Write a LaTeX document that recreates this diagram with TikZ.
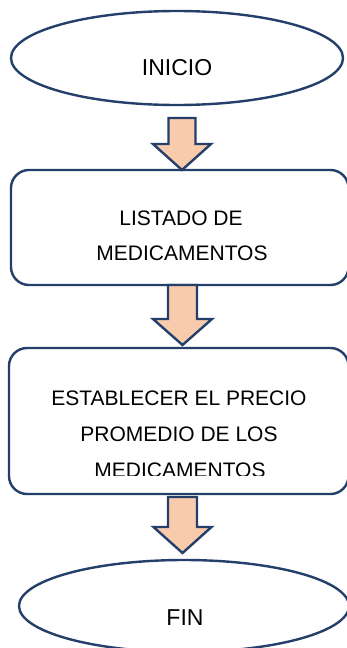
\documentclass[tikz,border=0pt]{standalone}
\usepackage{fontspec}
\setmainfont{Liberation Sans}
\usetikzlibrary{shapes.geometric,calc}
\definecolor{navy}{HTML}{243F6A}
\definecolor{peach}{HTML}{F8CBAD}
\tikzset{
  outl/.style={draw=navy, line width=2.4pt},
  termnode/.style={outl, ellipse, inner sep=0pt, fill=white},
  procbox/.style={outl, rectangle, rounded corners=18pt, inner sep=0pt, fill=white},
  lbl/.style={anchor=base, inner sep=0pt, font=\fontsize{21}{25}\selectfont, text=black},
  termlbl/.style={lbl, font=\fontsize{23}{27}\selectfont},
  barrow/.style={draw=navy, line width=2.4pt, fill=peach, line join=miter}
}
\newcommand\blockarrow[4]{% top coordinate, tip coordinate, shaft half width, head half width
  \draw[barrow] ($(#1)+(-#3,0)$) -- ($(#1)+(#3,0)$) -- ($(#2)+(#3,-26)$) -- ($(#2)+(#4,-26)$) -- (#2)
    -- ($(#2)+(-#4,-26)$) -- ($(#2)+(-#3,-26)$) -- cycle;}
\begin{document}
\begin{tikzpicture}[x=1pt,y=-1pt]
\clip (0,0) rectangle (347,648);
\fill[white] (0,0) rectangle (347,648);
% nodes
\node[termnode, minimum width=332pt, minimum height=94pt] (inicio) at (177,58) {};
\node[termlbl] (tinicio) at (177,75) {INICIO};
\node[procbox, minimum width=337.5pt, minimum height=115pt] (b1) at (179.75,227.5) {};
\node[lbl] (t1a) at (181,225) {LISTADO DE};
\node[lbl] (t1b) at (182,260) {MEDICAMENTOS};
\node[procbox, minimum width=339.5pt, minimum height=146pt] (b2) at (178.75,421) {};
\node[lbl] (t2a) at (179,405) {ESTABLECER EL PRECIO};
\node[lbl] (t2b) at (179,441) {PROMEDIO DE LOS};
\begin{scope}
  \clip (0,0) rectangle (347,475);
  \node[lbl] (t2c) at (180,477) {MEDICAMENTOS};
\end{scope}
\node[termnode, minimum width=330pt, minimum height=92pt] (fin) at (184,606) {};
\node[termlbl] (tfin) at (185,625) {FIN};
% block arrows
\coordinate (a1top) at (182,118);
\coordinate (a1tip) at (182,170);
\coordinate (a2top) at (182.5,285);
\coordinate (a2tip) at (182.5,345);
\coordinate (a3top) at (182.5,497);
\coordinate (a3tip) at (182.5,553);
\blockarrow{a1top}{a1tip}{13.5}{29}
\blockarrow{a2top}{a2tip}{14.5}{29.5}
\blockarrow{a3top}{a3tip}{14.5}{29}
\end{tikzpicture}
\end{document}
